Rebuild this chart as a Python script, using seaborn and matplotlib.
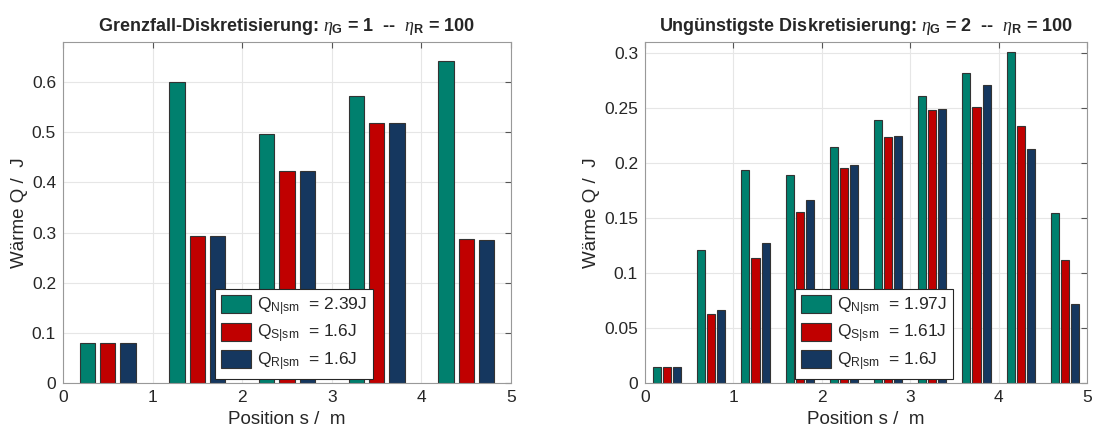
import numpy as np
import pandas as pd
import seaborn as sns
import matplotlib.pyplot as plt
from matplotlib.patches import Patch
from matplotlib.ticker import FormatStrFormatter

# left panel: eta_G = 1
pos_left = [0.5, 1.5, 2.5, 3.5, 4.5]
qn_left = [0.080, 0.600, 0.497, 0.572, 0.643]
qs_left = [0.080, 0.293, 0.422, 0.519, 0.287]
qr_left = [0.080, 0.293, 0.422, 0.519, 0.285]
labels_left = [r"Q$_{\mathrm{N|sm}}$  = 2.39J", r"Q$_{\mathrm{S|sm}}$  = 1.6J", r"Q$_{\mathrm{R|sm}}$  = 1.6J"]

# right panel: eta_G = 2
pos_right = [0.25, 0.75, 1.25, 1.75, 2.25, 2.75, 3.25, 3.75, 4.25, 4.75]
qn_right = [0.0143, 0.1206, 0.194, 0.189, 0.215, 0.239, 0.261, 0.2817, 0.301, 0.155]
qs_right = [0.0143, 0.0624, 0.1136, 0.1556, 0.1955, 0.2233, 0.248, 0.2507, 0.2333, 0.1121]
qr_right = [0.0143, 0.0667, 0.127, 0.1666, 0.198, 0.2248, 0.2488, 0.2705, 0.2126, 0.0719]
labels_right = [r"Q$_{\mathrm{N|sm}}$  = 1.97J", r"Q$_{\mathrm{S|sm}}$  = 1.61J", r"Q$_{\mathrm{R|sm}}$  = 1.6J"]

colors = ["#00806e", "#c00000", "#15375f"]

sns.set_style("white")
plt.rcParams['font.family'] = ['Liberation Sans', 'DejaVu Sans']
plt.rcParams['mathtext.fontset'] = 'custom'
plt.rcParams['mathtext.rm'] = 'Liberation Sans'
plt.rcParams['mathtext.it'] = 'Liberation Serif:italic'
plt.rcParams['mathtext.bf'] = 'Liberation Sans:bold'


def make_df(pos, qn, qs, qr):
    return pd.DataFrame({
        "pos": list(pos) * 3,
        "Q": list(qn) + list(qs) + list(qr),
        "typ": ["N"] * len(pos) + ["S"] * len(pos) + ["R"] * len(pos),
    })


fig = plt.figure(figsize=(10.93, 4.33), dpi=100)
ax1 = fig.add_axes([63 / 1093, 1 - 383 / 433, 448 / 1093, 341 / 433])
ax2 = fig.add_axes([645 / 1093, 1 - 383 / 433, 442 / 1093, 341 / 433])

panels = [
    (ax1, make_df(pos_left, qn_left, qs_left, qr_left), labels_left, 0.68, 0.25,
     r"Grenzfall-Diskretisierung: $\eta_{\mathbf{G}}$ = 1  --  $\eta_{\mathbf{R}}$ = 100", (0, 0.68), np.arange(0, 0.61, 0.1)),
    (ax2, make_df(pos_right, qn_right, qs_right, qr_right), labels_right, 0.68, 0.2,
     r"Ungünstigste Diskretisierung: $\eta_{\mathbf{G}}$ = 2  --  $\eta_{\mathbf{R}}$ = 100", (0, 0.31), np.arange(0, 0.31, 0.05)),
]

for ax, df, labels, w, g, title, ylim, yticks in panels:
    sns.barplot(data=df, x="pos", y="Q", hue="typ", native_scale=True,
                palette=colors, saturation=1, width=w, gap=g,
                edgecolor="#333333", linewidth=0.8, legend=False, ax=ax)
    ax.set_xlim(0, 5)
    ax.set_ylim(*ylim)
    ax.set_xticks(range(6))
    ax.set_yticks(yticks)
    ax.yaxis.set_major_formatter(FormatStrFormatter('%g'))
    ax.grid(True, color="#e6e6e6", linewidth=0.8)
    ax.set_axisbelow(True)
    ax.tick_params(direction="in", top=True, right=True, labelsize=12.5,
                   length=4, color="#555555", labelcolor="#262626", pad=5)
    for s in ax.spines.values():
        s.set_color("#999999")
        s.set_linewidth(0.8)
    ax.set_xlabel("Position s /  m", fontsize=13.5, color="#262626", labelpad=4)
    ax.set_ylabel("Wärme Q /  J", fontsize=13.5, color="#262626", labelpad=3)
    ax.set_title(title, fontsize=13, fontweight="bold", pad=8)
    handles = [Patch(facecolor=c, edgecolor="#333333", linewidth=0.8) for c in colors]
    leg = ax.legend(handles, labels, loc="upper left", bbox_to_anchor=(0.339, 0.275),
                    borderaxespad=0, fontsize=12.5, handlelength=1.75, handleheight=1.2,
                    handletextpad=0.3, labelspacing=0.3, borderpad=0.35,
                    fancybox=False, framealpha=1, edgecolor="#262626")
    leg.get_frame().set_linewidth(0.8)

fig.savefig("out.png", dpi=100)
